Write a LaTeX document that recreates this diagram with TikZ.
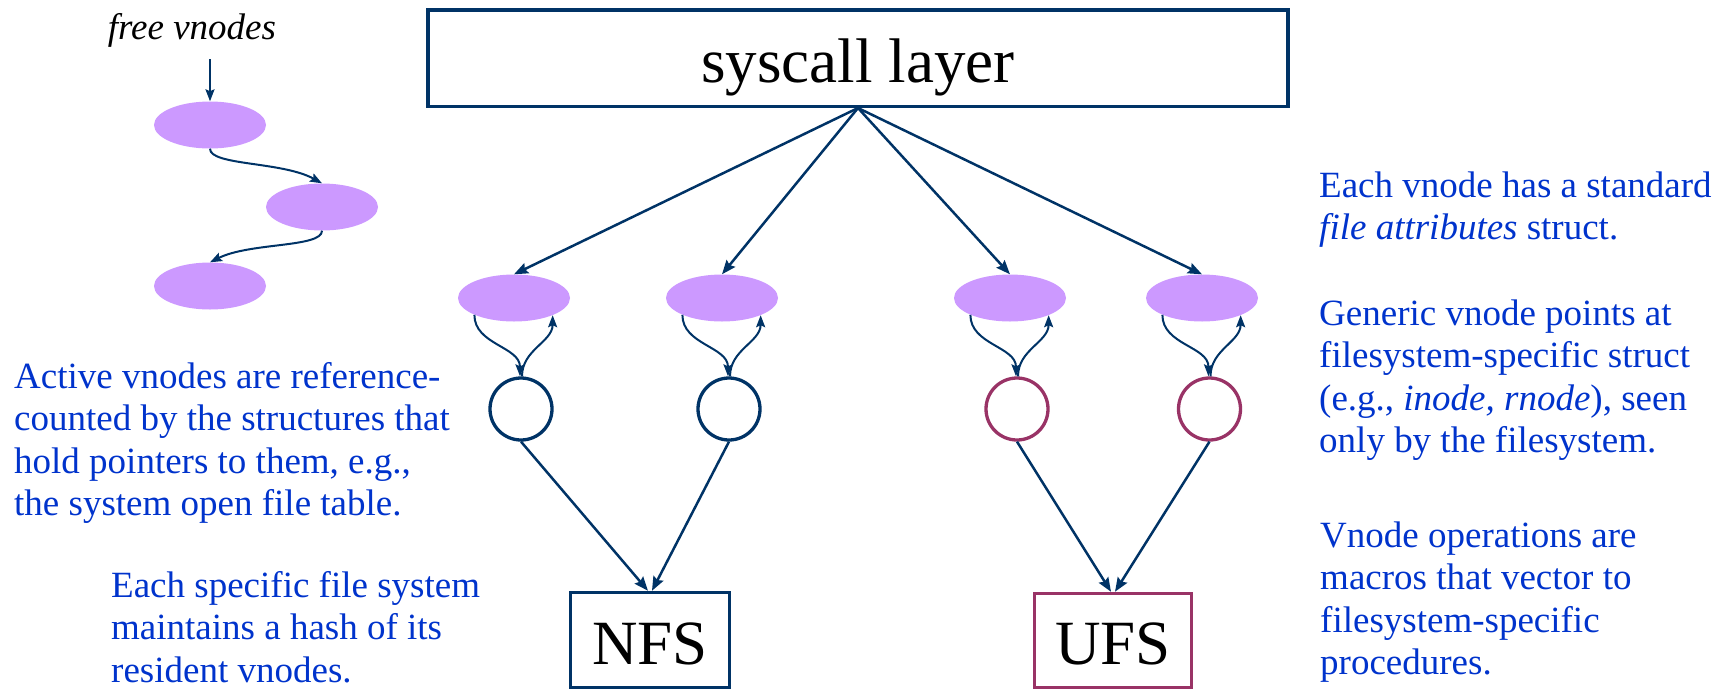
\documentclass[tikz,border=0pt]{standalone}
\usepackage{fontspec}
\setmainfont{Liberation Serif}
\usetikzlibrary{arrows.meta,shapes.geometric}
\definecolor{nblue}{HTML}{003366}
\definecolor{ured}{HTML}{993366}
\definecolor{tblue}{HTML}{0033CC}
\definecolor{vfill}{HTML}{CC99FF}
\begin{document}
\begin{tikzpicture}[x=1pt,y=-1pt,
  vnode/.style={ellipse, fill=vfill, draw=none, minimum width=112pt, minimum height=47pt, inner sep=0pt},
  fsnode/.style={circle, draw=#1, line width=3.3pt, minimum size=62pt, inner sep=0pt},
  fsbox/.style={draw=#1, line width=3.5pt, inner sep=0pt, font=\fontsize{63}{70}\selectfont, text height=48pt, text depth=0pt},
  link/.style={draw=nblue, line width=2.5pt, -{Stealth[length=14pt,width=11pt,inset=2pt]}},
  vloop/.style={draw=nblue, line width=2pt, -{Stealth[length=12pt,width=9pt,inset=2pt]}},
  notetext/.style={anchor=base west, align=left, inner sep=0pt, text=tblue, font=\fontsize{37}{42.5}\selectfont},
]
\useasboundingbox (0,0) rectangle (1730,691);

% syscall layer
\node[draw=nblue, line width=3.5pt, inner sep=0pt, minimum width=860pt, minimum height=96.5pt,
      font=\fontsize{63}{70}\selectfont, text height=60pt, text depth=12pt] (sys) at (858,58) {syscall layer};

% free list
\node[anchor=base, inner sep=0pt, font=\fontsize{37}{44}\selectfont\itshape] (fvl) at (192,39) {free vnodes};
\coordinate (fvs) at (210,59);
\node[vnode] (f1) at (210,125) {};
\node[vnode] (f2) at (322,207) {};
\node[vnode] (f3) at (210,286) {};
\draw[vloop] (fvs) -- (f1.north);
\draw[vloop] (f1.south) .. controls +(0,17) and +(-40,-22) .. (f2.north);
\draw[vloop] (f2.south) .. controls +(0,17) and +(40,-20) .. (f3.north);

% active vnodes
\node[vnode] (e1) at (514,298) {};
\node[vnode] (e2) at (722,298) {};
\node[vnode] (e3) at (1010,298) {};
\node[vnode] (e4) at (1202,298) {};

\node[fsnode=nblue] (c1) at (521,409) {};
\node[fsnode=nblue] (c2) at (729,409) {};
\node[fsnode=ured] (c3) at (1017,409) {};
\node[fsnode=ured] (c4) at (1209.5,409) {};

\node[fsbox=nblue, minimum width=159pt, minimum height=95pt] (nfs) at (650,640) {NFS};
\node[fsbox=ured, minimum width=157pt, minimum height=94pt] (ufs) at (1113,640.5) {UFS};

\foreach \e in {e1,e2,e3,e4}
  \draw[link] (sys.south) -- (\e.north);

\foreach \e/\c in {e1/c1,e2/c2,e3/c3,e4/c4}{
  \draw[vloop] (\e.-157) to[out=-90,in=90] ([xshift=-1pt]\c.north);
  \draw[vloop] ([xshift=1pt]\c.north) to[out=90,in=-90] (\e.-24);
}

\draw[link] (c1.south) -- ([xshift=-2pt]nfs.north);
\draw[link] (c2.south) -- ([xshift=2pt]nfs.north);
\draw[link] (c3.south) -- ([xshift=-2pt]ufs.north);
\draw[link] (c4.south) -- ([xshift=2pt]ufs.north);

% notes (anchored at the baseline of their last line)
\node[notetext] (t1) at (14,515.5) {Active vnodes are reference-\\counted by the structures that\\hold pointers to them, e.g.,\\the system open file table.};
\node[notetext] (t2) at (111,682) {Each specific file system\\maintains a hash of its\\resident vnodes.};
\node[notetext] (t3) at (1319,239.5) {Each vnode has a standard\\\textit{file attributes} struct.};
\node[notetext] (t4) at (1319,452.5) {Generic vnode points at\\filesystem-specific struct\\(e.g., \textit{inode, rnode}), seen\\only by the filesystem.};
\node[notetext] (t5) at (1320,674.5) {Vnode operations are\\macros that vector to\\filesystem-specific\\procedures.};
\end{tikzpicture}
\end{document}
